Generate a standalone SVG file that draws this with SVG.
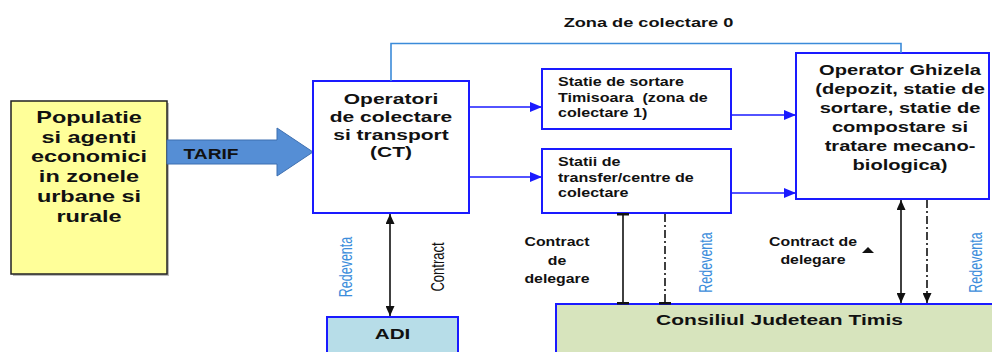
<svg xmlns="http://www.w3.org/2000/svg" width="992" height="352" viewBox="0 0 992 352">
<style>
.b{font-family:"Liberation Sans",Arial,sans-serif;font-weight:bold;fill:#111}
.r{font-family:"Liberation Sans",Arial,sans-serif;fill:#111}
.bl{font-family:"Liberation Sans",Arial,sans-serif;fill:#3c8ddb}
.box{fill:#fff;stroke:#1a1aff;stroke-width:2}
.ba{stroke:#1a1aff;stroke-width:1.6;fill:none}
.k{stroke:#111;stroke-width:1.6;fill:none}
.dd{stroke:#111;stroke-width:1.6;fill:none;stroke-dasharray:8 3 2 3}
</style>
<defs>
<marker id="ab" markerUnits="userSpaceOnUse" viewBox="0 0 12 10" refX="12" refY="5" markerWidth="12" markerHeight="10" orient="auto"><path d="M0,0 L12,5 L0,10 z" fill="#1a1aff"/></marker>
<marker id="ak" markerUnits="userSpaceOnUse" viewBox="0 0 10 9" refX="10" refY="4.5" markerWidth="10" markerHeight="9" orient="auto-start-reverse"><path d="M0,0 L10,4.5 L0,9 z" fill="#111"/></marker>
<marker id="bar" markerUnits="userSpaceOnUse" viewBox="0 0 3 12" refX="1.5" refY="6" markerWidth="3" markerHeight="12" orient="auto"><rect x="0" y="0" width="3" height="12" fill="#111"/></marker>
</defs>

<g id="populatie">
<rect x="13" y="103" width="156" height="173" fill="#bbb"/>
<rect x="11" y="101" width="156" height="173" fill="#ffff99" stroke="#222" stroke-width="1.5"/>
<text class="b" font-size="17" text-anchor="middle" transform="matrix(1.38 0 0 1 89 0)">
<tspan x="0" y="123">Populatie</tspan><tspan x="0" y="143">si agenti</tspan><tspan x="0" y="162.5">economici</tspan><tspan x="0" y="182.5">in zonele</tspan><tspan x="0" y="202">urbane si</tspan><tspan x="0" y="222">rurale</tspan>
</text>
</g>

<g id="tarif">
<path d="M167,140 H277 V128 L313,152 L277,176 V164 H167 Z" fill="#558ed5" stroke="#3d6fb0" stroke-width="1"/>
<text class="b" font-size="15" text-anchor="middle" transform="matrix(1.28 0 0 1 211 0)"><tspan x="0" y="159">TARIF</tspan></text>
</g>

<g id="operatori">
<rect class="box" x="313" y="81" width="156" height="132"/>
<text class="b" font-size="15" text-anchor="middle" transform="matrix(1.4 0 0 1 391 0)">
<tspan x="0" y="104">Operatori</tspan><tspan x="0" y="122">de colectare</tspan><tspan x="0" y="140">si transport</tspan><tspan x="0" y="157.5">(CT)</tspan>
</text>
</g>

<g id="sortare">
<rect class="box" x="542" y="69" width="189" height="60"/>
<text class="b" font-size="12" transform="matrix(1.34 0 0 1 558 0)">
<tspan x="0" y="86">Statie de sortare</tspan><tspan x="0" y="101.7">Timisoara &#160;(zona de</tspan><tspan x="0" y="117.5">colectare 1)</tspan>
</text>
</g>

<g id="transfer">
<rect class="box" x="542" y="149" width="189" height="64"/>
<text class="b" font-size="12" transform="matrix(1.34 0 0 1 558 0)">
<tspan x="0" y="166">Statii de</tspan><tspan x="0" y="181.7">transfer/centre de</tspan><tspan x="0" y="197">colectare</tspan>
</text>
</g>

<g id="ghizela">
<rect class="box" x="796" y="53" width="193" height="146"/>
<text class="b" font-size="15" text-anchor="middle" transform="matrix(1.34 0 0 1 900 0)">
<tspan x="0" y="75">Operator Ghizela</tspan><tspan x="0" y="94.5">(depozit, statie de</tspan><tspan x="0" y="113.5">sortare, statie de</tspan><tspan x="0" y="132.5">compostare si</tspan><tspan x="0" y="151.5">tratare mecano-</tspan><tspan x="0" y="170.5">biologica)</tspan>
</text>
</g>

<g id="adi">
<rect x="327" y="317" width="131" height="45" fill="#b7dde8" stroke="#1a1aff" stroke-width="2"/>
<text class="b" font-size="15" text-anchor="middle" transform="matrix(1.38 0 0 1 392.5 0)"><tspan x="0" y="339">ADI</tspan></text>
</g>

<g id="consiliul">
<rect x="556" y="304" width="445" height="58" fill="#d7e4bd" stroke="#1a1aff" stroke-width="2"/>
<text class="b" font-size="15" text-anchor="middle" transform="matrix(1.4 0 0 1 779.5 0)"><tspan x="0" y="325">Consiliul Judetean Timis</tspan></text>
</g>

<g id="connectors">
<polyline points="391,81 391,43.5 901,43.5 901,53" fill="none" stroke="#3b8bd9" stroke-width="1.6"/>
<line class="ba" x1="469" y1="107" x2="542" y2="107" marker-end="url(#ab)"/>
<line class="ba" x1="469" y1="177" x2="542" y2="177" marker-end="url(#ab)"/>
<line class="ba" x1="731" y1="115" x2="796" y2="115" marker-end="url(#ab)"/>
<line class="ba" x1="731" y1="193" x2="796" y2="193" marker-end="url(#ab)"/>
<line class="k" x1="390" y1="214" x2="390" y2="316" marker-start="url(#ak)" marker-end="url(#ak)"/>
<line class="k" x1="623" y1="214" x2="623" y2="303" marker-start="url(#bar)" marker-end="url(#bar)"/>
<line class="dd" x1="665" y1="214" x2="665" y2="303" marker-end="url(#bar)"/>
<line class="k" x1="901" y1="200" x2="901" y2="303" marker-start="url(#ak)" marker-end="url(#ak)"/>
<line class="dd" x1="927" y1="200" x2="927" y2="303" marker-end="url(#ak)"/>
<path d="M862,253 L868,247 L874,253 Z" fill="#111"/>
</g>

<g id="labels">
<text class="b" font-size="13" text-anchor="middle" transform="matrix(1.4 0 0 1 648.5 0)"><tspan x="0" y="26.7">Zona de colectare 0</tspan></text>
<text class="b" font-size="12" text-anchor="middle" transform="matrix(1.32 0 0 1 557 0)"><tspan x="0" y="246">Contract</tspan><tspan x="0" y="265">de</tspan><tspan x="0" y="283">delegare</tspan></text>
<text class="b" font-size="12" text-anchor="middle" transform="matrix(1.32 0 0 1 813 0)"><tspan x="0" y="246">Contract de</tspan><tspan x="0" y="264">delegare</tspan></text>
<text class="bl" font-size="12.5" text-anchor="middle" transform="translate(352,267) scale(1.4,1) rotate(-90)">Redeventa</text>
<text class="r" font-size="13" text-anchor="middle" transform="translate(444,267) scale(1.35,1) rotate(-90)">Contract</text>
<text class="bl" font-size="12.5" text-anchor="middle" transform="translate(712,262.5) scale(1.4,1) rotate(-90)">Redeventa</text>
<text class="bl" font-size="12.5" text-anchor="middle" transform="translate(982,262.5) scale(1.4,1) rotate(-90)">Redeventa</text>
</g>
</svg>
